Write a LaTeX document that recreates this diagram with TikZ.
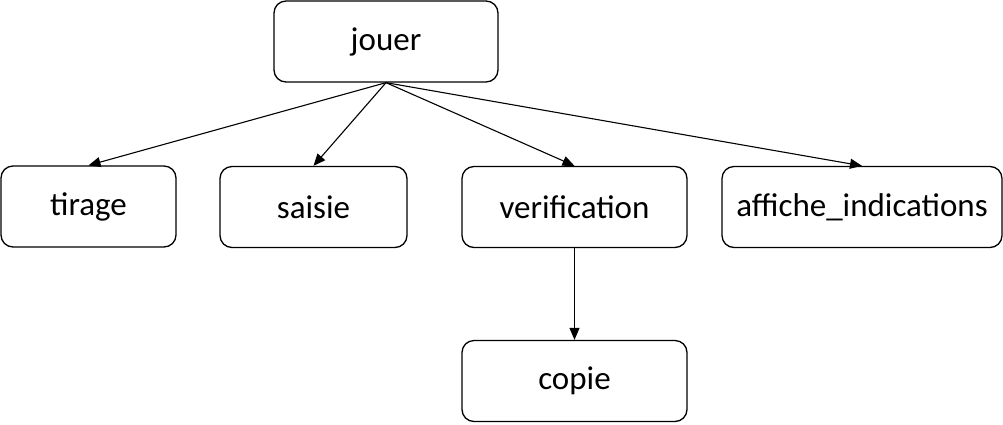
\documentclass[tikz,border=0pt]{standalone}
\usepackage{fontspec}
\setmainfont{Carlito}
\usetikzlibrary{arrows.meta}

\begin{document}
\begin{tikzpicture}[x=1pt, y=-1pt,
  boite/.style={draw, line width=1.3pt, rounded corners=12pt, minimum height=81pt, inner sep=0pt, font=\fontsize{33}{38}\selectfont},
  fleche/.style={-{Triangle[length=12pt,width=10pt]}, line width=1.1pt}]
\useasboundingbox (0,0) rectangle (1003,424);

\node[boite, minimum width=224pt] (jouer) at (386,41.5) {jouer};

\node[boite, minimum width=175pt] (tirage) at (88.5,206.5) {tirage};
\node[boite, minimum width=187pt] (saisie) at (313.5,207) {saisie};
\node[boite, minimum width=225pt] (verif) at (574.5,207) {verification};
\node[boite, minimum width=280pt] (affiche) at (862,207) {affiche\_indications};

\node[boite, minimum width=225pt] (copie) at (574.5,381) {copie};

\draw[fleche] (jouer.south) -- (tirage.north);
\draw[fleche] (jouer.south) -- (saisie.north);
\draw[fleche] (jouer.south) -- (verif.north);
\draw[fleche] (jouer.south) -- (affiche.north);

\draw[fleche] (verif.south) -- (copie.north);
\end{tikzpicture}
\end{document}
